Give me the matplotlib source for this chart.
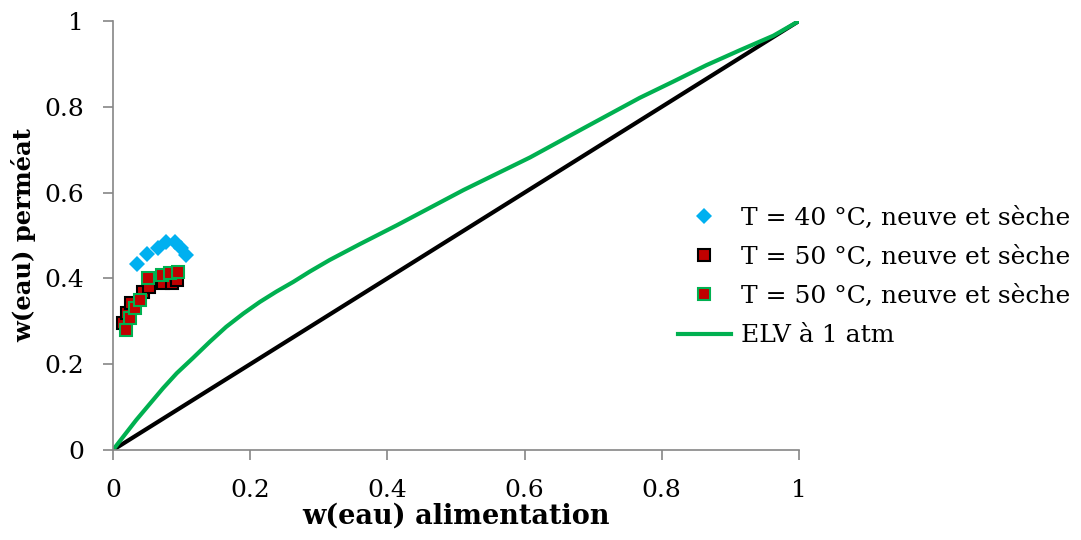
import matplotlib.pyplot as plt
import numpy as np

# T = 40 °C (blue diamonds)
x40 = [0.035, 0.049, 0.065, 0.078, 0.090, 0.099, 0.107]
y40 = [0.433, 0.457, 0.470, 0.486, 0.486, 0.470, 0.455]

# T = 50 °C, black edge squares
x50a = [0.015, 0.020, 0.027, 0.044, 0.053, 0.073, 0.086, 0.093]
y50a = [0.295, 0.319, 0.342, 0.369, 0.381, 0.389, 0.389, 0.396]

# T = 50 °C, green edge squares
x50b = [0.019, 0.025, 0.032, 0.039, 0.051, 0.071, 0.083, 0.095]
y50b = [0.280, 0.308, 0.332, 0.350, 0.400, 0.408, 0.412, 0.416]

# ELV curve at 1 atm
x_elv = [0, 0.015, 0.034, 0.054, 0.073, 0.093, 0.117, 0.141, 0.165, 0.190, 0.214, 0.238,
         0.263, 0.287, 0.316, 0.36, 0.414, 0.511, 0.608, 0.686, 0.768, 0.817, 0.865,
         0.914, 0.963, 1.0]
y_elv = [0, 0.031, 0.070, 0.108, 0.144, 0.179, 0.215, 0.252, 0.287, 0.318, 0.345, 0.369,
         0.392, 0.416, 0.443, 0.48, 0.524, 0.606, 0.682, 0.750, 0.821, 0.859, 0.897,
         0.932, 0.966, 1.0]

ticks = [0, 0.2, 0.4, 0.6, 0.8, 1]
tick_labels = ['0', '0.2', '0.4', '0.6', '0.8', '1']

plt.rcParams['font.family'] = ['DejaVu Serif']

fig = plt.figure(figsize=(10.81, 5.4), dpi=100)
ax = fig.add_axes([0.1045, 0.1667, 0.6345, 0.7943])

blue = '#00B0F0'
red = '#C00000'
green = '#00B050'

ax.plot([0, 1], [0, 1], color='black', linewidth=3, zorder=2)
ax.plot(x_elv, y_elv, color=green, linewidth=3, zorder=2, label='ELV à 1 atm')

ax.plot(x40, y40, linestyle='none', marker='D', markersize=8, color=blue,
        markeredgewidth=0, zorder=3, label='T = 40 °C, neuve et sèche')
ax.plot(x50a, y50a, linestyle='none', marker='s', markersize=9, markerfacecolor=red,
        markeredgecolor='black', markeredgewidth=1.5, zorder=4, label='T = 50 °C, neuve et sèche')
ax.plot(x50b, y50b, linestyle='none', marker='s', markersize=9, markerfacecolor=red,
        markeredgecolor=green, markeredgewidth=1.5, zorder=5, label='T = 50 °C, neuve et sèche')

ax.set_xlim(0, 1)
ax.set_ylim(0, 1)
ax.set_xticks(ticks)
ax.set_xticklabels(tick_labels)
ax.set_yticks(ticks)
ax.set_yticklabels(tick_labels)

for s in ['top', 'right']:
    ax.spines[s].set_visible(False)
for s in ['left', 'bottom']:
    ax.spines[s].set_color('#868686')
    ax.spines[s].set_linewidth(1.2)
ax.tick_params(direction='out', length=7, width=1.2, color='#868686', labelsize=18)
ax.tick_params(axis='x', pad=14)
ax.tick_params(axis='y', pad=14)

ax.set_xlabel('w(eau) alimentation', fontsize=19.5, fontweight='bold')
ax.set_ylabel('w(eau) perméat', fontsize=17.5, fontweight='bold')
ax.xaxis.set_label_coords(0.5, -0.122)
ax.yaxis.set_label_coords(-0.112, 0.5)

handles, labels = ax.get_legend_handles_labels()
order = [1, 2, 3, 0]
ax.legend([handles[i] for i in order], [labels[i] for i in order],
          loc='center left', bbox_to_anchor=(0.606, 0.487), bbox_transform=fig.transFigure,
          frameon=False, fontsize=18, handlelength=2.15, handletextpad=0.4,
          labelspacing=0.65)

fig.savefig('out.png', dpi=100)
